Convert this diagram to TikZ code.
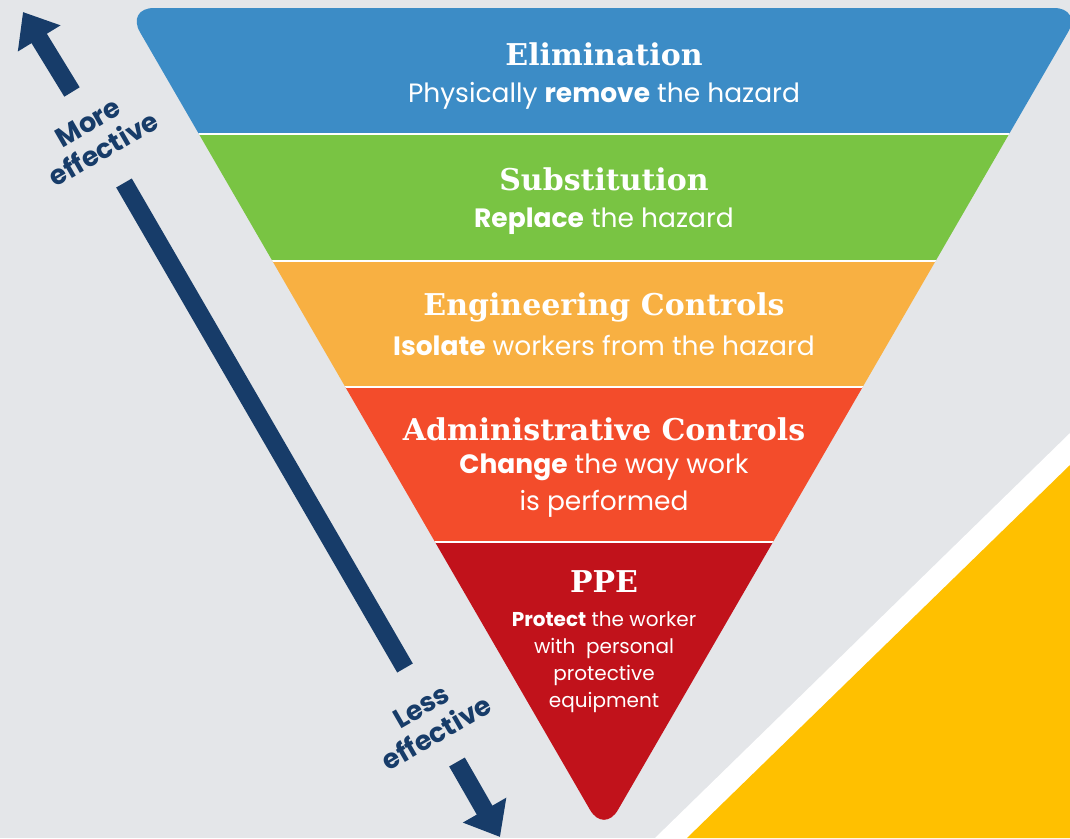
\documentclass[tikz,border=0pt]{standalone}
\usepackage{fontspec}
\setmainfont{Poppins}
\newfontfamily\slabfont{DejaVu Serif}
\usetikzlibrary{arrows.meta,positioning,calc}
\definecolor{bggray}{HTML}{E4E6E9}
\definecolor{elimblue}{HTML}{3C8CC6}
\definecolor{substgreen}{HTML}{79C443}
\definecolor{engorange}{HTML}{F8B042}
\definecolor{adminred}{HTML}{F34C2B}
\definecolor{ppered}{HTML}{C1121B}
\definecolor{navy}{HTML}{173C69}
\definecolor{corneryellow}{HTML}{FFC000}

\begin{document}
\begin{tikzpicture}[
  x=1pt, y=-1pt,
  bandtitle/.style={font=\slabfont\bfseries\fontsize{30}{36}\selectfont,
                    text=white, anchor=base, inner sep=0pt},
  bandtext/.style={font=\fontsize{26.5}{37}\selectfont, text=white,
                   anchor=base, inner sep=0pt, align=center},
  efflabel/.style={font=\bfseries\fontsize{27}{31}\selectfont, text=navy,
                   align=center, rotate=30, inner sep=0pt},
  navyshaft/.style={draw=navy, line width=18pt},
  navyarrow/.style={navyshaft, -{Triangle[length=31pt, width=48pt]}},
  bandline/.style={draw=white, line width=2pt}
]
  \useasboundingbox (0,0) rectangle (1070,838);
  \fill[bggray] (0,0) rectangle (1070,838);

  % corner decoration
  \fill[white] (1070,433) -- (1070,838) -- (655,838) -- cycle;
  \fill[corneryellow] (1070,465) -- (1070,838) -- (687,838) -- cycle;

  % the inverted triangle
  \coordinate (tl) at (126,8);
  \coordinate (tr) at (1082,8);
  \coordinate (tip) at (604,834);
  \begin{scope}
    \clip[rounded corners=28pt] (tl) -- (tr) -- (tip) -- cycle;
    \fill[elimblue]   (0,0)   rectangle (1090,134);
    \fill[substgreen] (0,134) rectangle (1090,261);
    \fill[engorange]  (0,261) rectangle (1090,387);
    \fill[adminred]   (0,387) rectangle (1090,542);
    \fill[ppered]     (0,542) rectangle (1090,838);
    \foreach \y in {134,261,387,542}
      \draw[bandline] (0,\y) -- (1090,\y);
  \end{scope}

  % band texts (multi-line nodes sit on their last baseline)
  \node[bandtitle] (elim) at (604,65) {Elimination};
  \node[bandtext] (elimtxt) at (604,102) {Physically \textbf{remove} the hazard};
  \node[bandtitle] (subst) at (604,190) {Substitution};
  \node[bandtext] (substtxt) at (604,227) {\textbf{Replace} the hazard};
  \node[bandtitle] (eng) at (604,315) {Engineering Controls};
  \node[bandtext] (engtxt) at (604,355) {\textbf{Isolate} workers from the hazard};
  \node[bandtitle] (admin) at (604,440) {Administrative Controls};
  \node[bandtext] (admintxt) at (604,510) {\textbf{Change} the way work\\is performed};
  \node[bandtitle] (ppe) at (604,592) {PPE};
  \node[bandtext, font=\fontsize{20}{27}\selectfont] (ppetxt) at (604,707)
    {\textbf{Protect} the worker\\with\ \ personal\\protective\\equipment};

  % effectiveness arrows
  \coordinate (upfoot) at (405,668);
  \coordinate (upmid) at (124,183);
  \coordinate (upstart) at (72,92);
  \coordinate (uptip) at (23,12);
  \coordinate (downstart) at (457,762);
  \coordinate (downtip) at (500,837);
  \draw[navyshaft] (upfoot) -- (upmid);
  \draw[navyarrow] (upstart) -- (uptip);
  \draw[navyarrow] (downstart) -- (downtip);
  \node[efflabel] (more) at (96,136) {More\\effective};
  \node[efflabel] (less) at (429,720) {Less\\effective};
\end{tikzpicture}
\end{document}
